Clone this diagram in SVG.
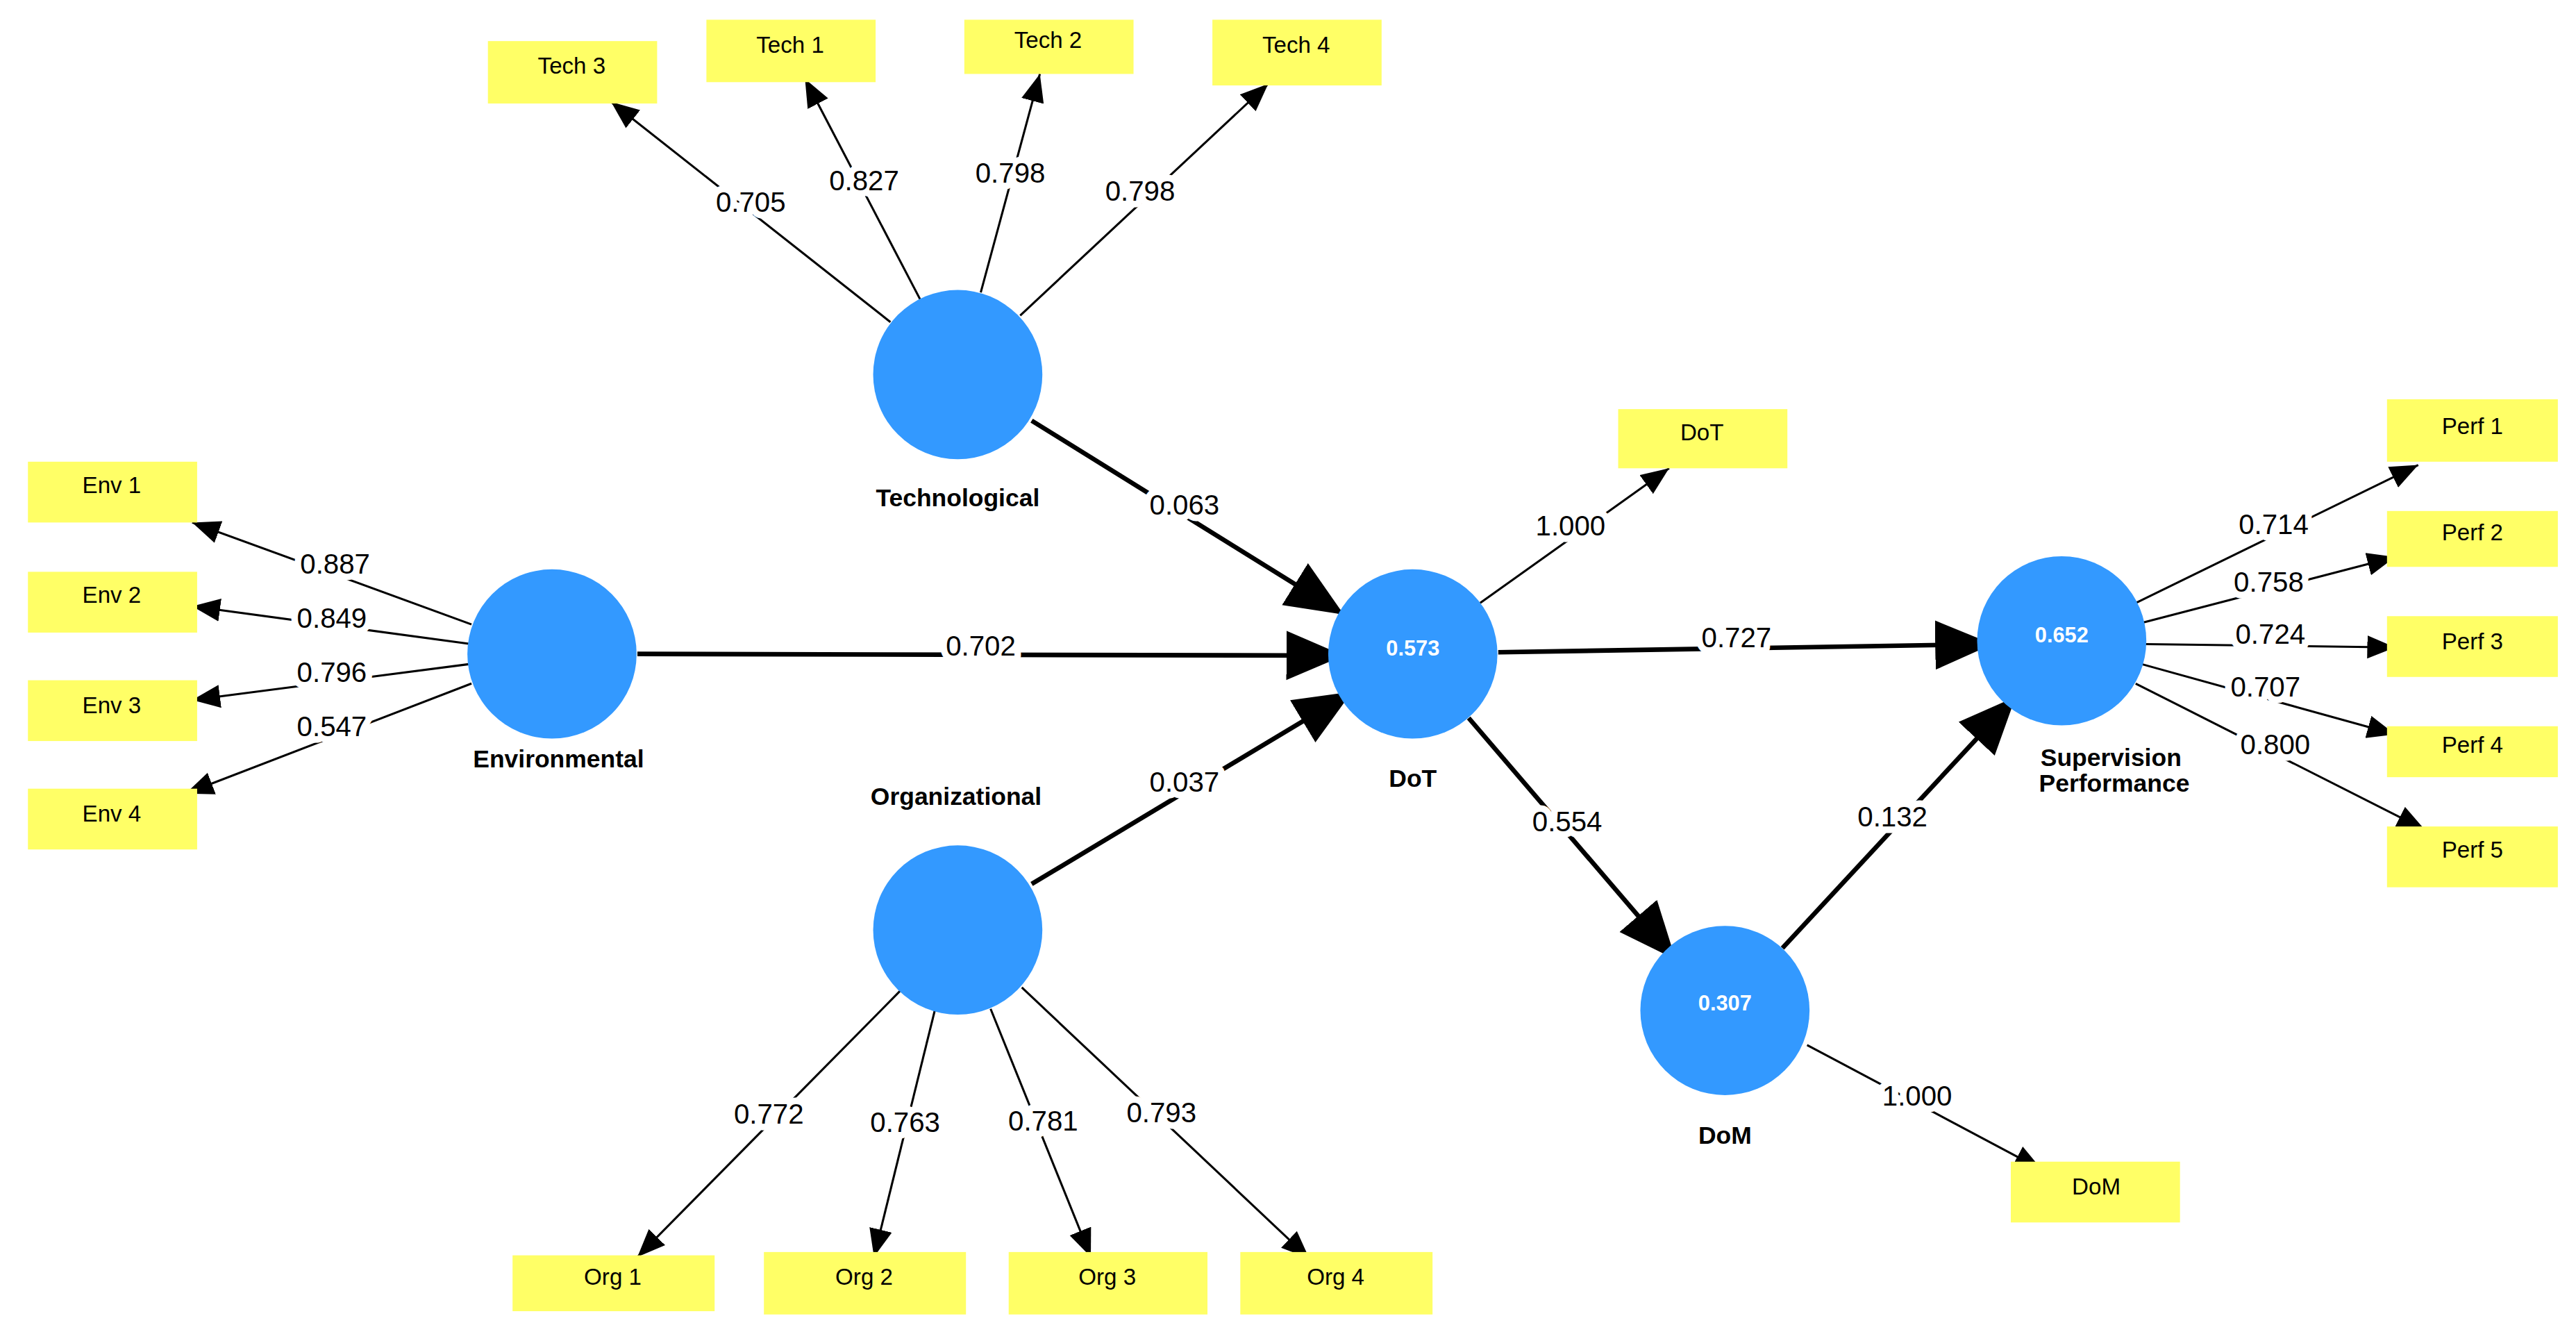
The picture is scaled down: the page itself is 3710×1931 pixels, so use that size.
<svg xmlns="http://www.w3.org/2000/svg" width="3710" height="1931" viewBox="0 0 3710 1931">
<style>
.box{fill:#ffff66}
.bt{font-family:"Liberation Sans",Arial,sans-serif;font-size:14px;fill:#000;text-anchor:middle}
.lv{fill:#3399ff}
.lt{font-family:"Liberation Sans",Arial,sans-serif;font-size:15px;font-weight:bold;fill:#000;text-anchor:middle}
.iv{font-family:"Liberation Sans",Arial,sans-serif;font-size:13px;font-weight:bold;fill:#fff;text-anchor:middle}
.thin{stroke:#000;stroke-width:1.3;fill:none;marker-end:url(#ah)}
.thick{stroke:#000;stroke-width:2.8;fill:none;marker-end:url(#AH)}
.num{font-family:"Liberation Sans",Arial,sans-serif;font-size:17px;fill:#000;text-anchor:middle;stroke:#fff;stroke-width:8;paint-order:stroke;stroke-linejoin:round}
</style>
<defs>
<marker id="ah" markerUnits="userSpaceOnUse" markerWidth="20" markerHeight="16" refX="17" refY="7" orient="auto"><path d="M0,0 L17,7 L0,14 Z" fill="#000"/></marker>
<marker id="AH" markerUnits="userSpaceOnUse" markerWidth="38" markerHeight="32" refX="35" refY="15" orient="auto"><path d="M0,0 L35,15 L0,30 Z" fill="#000"/></marker>
</defs>
<rect width="3710" height="1931" fill="#fff"/>
<g transform="scale(2.366)">
<g id="connectors">
<line class="thin" x1="542" y1="196" x2="372" y2="62"/>
<line class="thin" x1="560" y1="182" x2="490" y2="48"/>
<line class="thin" x1="597" y1="178" x2="633" y2="45"/>
<line class="thin" x1="621" y1="192" x2="772" y2="51"/>
<line class="thin" x1="287" y1="380" x2="117" y2="318"/>
<line class="thin" x1="287" y1="392" x2="117" y2="369"/>
<line class="thin" x1="287" y1="404" x2="117" y2="426"/>
<line class="thin" x1="287" y1="416" x2="113" y2="483"/>
<line class="thick" x1="628" y1="256" x2="818" y2="374"/>
<line class="thick" x1="388" y1="398" x2="818" y2="399"/>
<line class="thick" x1="628" y1="538" x2="823" y2="421"/>
<line class="thin" x1="548" y1="603" x2="388" y2="765"/>
<line class="thin" x1="569" y1="615" x2="532" y2="765"/>
<line class="thin" x1="603" y1="614" x2="664" y2="765"/>
<line class="thin" x1="622" y1="601" x2="797" y2="766"/>
<line class="thin" x1="901" y1="367" x2="1016" y2="285"/>
<line class="thick" x1="912" y1="397" x2="1213" y2="392"/>
<line class="thick" x1="894" y1="437" x2="1020" y2="584"/>
<line class="thick" x1="1085" y1="577" x2="1227" y2="424"/>
<line class="thin" x1="1100" y1="636" x2="1243" y2="712"/>
<line class="thin" x1="1300" y1="367" x2="1472" y2="283"/>
<line class="thin" x1="1304" y1="379" x2="1458" y2="339"/>
<line class="thin" x1="1306" y1="392" x2="1458" y2="394"/>
<line class="thin" x1="1303" y1="404" x2="1458" y2="447"/>
<line class="thin" x1="1300" y1="416" x2="1476" y2="505"/>
<text class="num" x="457" y="129">0.705</text>
<text class="num" x="526" y="116">0.827</text>
<text class="num" x="615" y="111">0.798</text>
<text class="num" x="694" y="122">0.798</text>
<text class="num" x="204" y="349">0.887</text>
<text class="num" x="202" y="382">0.849</text>
<text class="num" x="202" y="415">0.796</text>
<text class="num" x="202" y="448">0.547</text>
<text class="num" x="721" y="313">0.063</text>
<text class="num" x="597" y="399">0.702</text>
<text class="num" x="721" y="482">0.037</text>
<text class="num" x="468" y="684">0.772</text>
<text class="num" x="551" y="689">0.763</text>
<text class="num" x="635" y="688">0.781</text>
<text class="num" x="707" y="683">0.793</text>
<text class="num" x="956" y="326">1.000</text>
<text class="num" x="1057" y="394">0.727</text>
<text class="num" x="954" y="506">0.554</text>
<text class="num" x="1152" y="503">0.132</text>
<text class="num" x="1167" y="673">1.000</text>
<text class="num" x="1384" y="325">0.714</text>
<text class="num" x="1381" y="360">0.758</text>
<text class="num" x="1382" y="392">0.724</text>
<text class="num" x="1379" y="424">0.707</text>
<text class="num" x="1385" y="459">0.800</text>
</g>
<g id="n-tech"><circle class="lv" cx="583" cy="228" r="51.5"/><text class="lt" x="583" y="308">Technological</text></g>
<g id="n-env"><circle class="lv" cx="336" cy="398" r="51.5"/><text class="lt" x="340" y="467">Environmental</text></g>
<g id="n-org"><circle class="lv" cx="583" cy="566" r="51.5"/><text class="lt" x="582" y="490">Organizational</text></g>
<g id="n-dot"><circle class="lv" cx="860" cy="398" r="51.5"/><text class="iv" x="860" y="399">0.573</text><text class="lt" x="860" y="479">DoT</text></g>
<g id="n-sp"><circle class="lv" cx="1255" cy="390" r="51.5"/><text class="iv" x="1255" y="391">0.652</text><text class="lt" x="1285" y="466">Supervision</text><text class="lt" x="1287" y="482">Performance</text></g>
<g id="n-dom"><circle class="lv" cx="1050" cy="615" r="51.5"/><text class="iv" x="1050" y="615">0.307</text><text class="lt" x="1050" y="696">DoM</text></g>
<g id="b-tech3"><rect class="box" x="297" y="25" width="103" height="38"/><text class="bt" x="348" y="45">Tech 3</text></g>
<g id="b-tech1"><rect class="box" x="430" y="12" width="103" height="38"/><text class="bt" x="481" y="32">Tech 1</text></g>
<g id="b-tech2"><rect class="box" x="587" y="12" width="103" height="33"/><text class="bt" x="638" y="29">Tech 2</text></g>
<g id="b-tech4"><rect class="box" x="738" y="12" width="103" height="40"/><text class="bt" x="789" y="32">Tech 4</text></g>
<g id="b-env1"><rect class="box" x="17" y="281" width="103" height="37"/><text class="bt" x="68" y="300">Env 1</text></g>
<g id="b-env2"><rect class="box" x="17" y="348" width="103" height="37"/><text class="bt" x="68" y="367">Env 2</text></g>
<g id="b-env3"><rect class="box" x="17" y="414" width="103" height="37"/><text class="bt" x="68" y="434">Env 3</text></g>
<g id="b-env4"><rect class="box" x="17" y="480" width="103" height="37"/><text class="bt" x="68" y="500">Env 4</text></g>
<g id="b-dot"><rect class="box" x="985" y="249" width="103" height="36"/><text class="bt" x="1036" y="268">DoT</text></g>
<g id="b-perf1"><rect class="box" x="1453" y="243" width="104" height="38"/><text class="bt" x="1505" y="264">Perf 1</text></g>
<g id="b-perf2"><rect class="box" x="1453" y="311" width="104" height="34"/><text class="bt" x="1505" y="329">Perf 2</text></g>
<g id="b-perf3"><rect class="box" x="1453" y="375" width="104" height="37"/><text class="bt" x="1505" y="395">Perf 3</text></g>
<g id="b-perf4"><rect class="box" x="1453" y="442" width="104" height="31"/><text class="bt" x="1505" y="458">Perf 4</text></g>
<g id="b-perf5"><rect class="box" x="1453" y="503" width="104" height="37"/><text class="bt" x="1505" y="522">Perf 5</text></g>
<g id="b-dom"><rect class="box" x="1224" y="707" width="103" height="37"/><text class="bt" x="1276" y="727">DoM</text></g>
<g id="b-org1"><rect class="box" x="312" y="764" width="123" height="34"/><text class="bt" x="373" y="782">Org 1</text></g>
<g id="b-org2"><rect class="box" x="465" y="762" width="123" height="38"/><text class="bt" x="526" y="782">Org 2</text></g>
<g id="b-org3"><rect class="box" x="614" y="762" width="121" height="38"/><text class="bt" x="674" y="782">Org 3</text></g>
<g id="b-org4"><rect class="box" x="755" y="762" width="117" height="38"/><text class="bt" x="813" y="782">Org 4</text></g>
</g>
</svg>
